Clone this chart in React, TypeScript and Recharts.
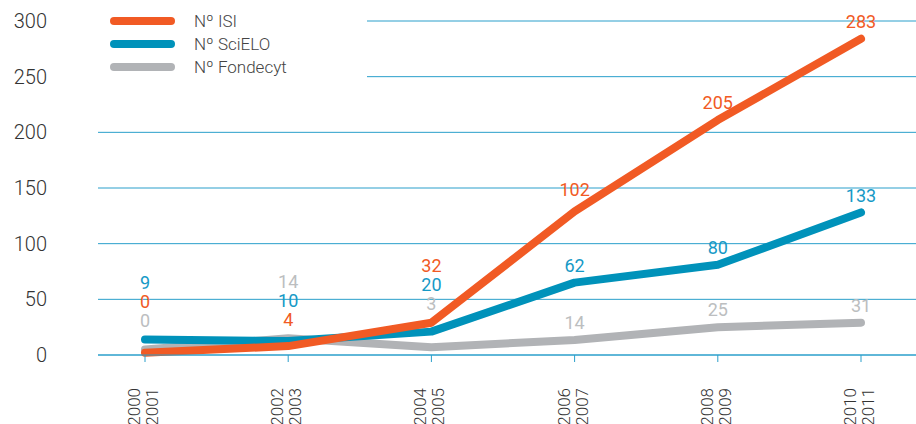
import React from 'react';
import { LineChart, Line, XAxis, YAxis, CartesianGrid, LabelList } from 'recharts';

const periodStart = ['2000', '2002', '2004', '2006', '2008', '2010'];
const periodEnd = ['2001', '2003', '2005', '2007', '2009', '2011'];
const isiValues = [2, 8, 29, 129, 211, 284];
const scieloValues = [14, 12.5, 21, 65, 81, 128];
const fondecytValues = [5, 15, 7, 13.5, 25, 29];
const isiLabels = [0, 4, 32, 102, 205, 283];
const scieloLabels = [9, 10, 20, 62, 80, 133];
const fondecytLabels = [0, 14, 3, 14, 25, 31];
const yTicks = [0, 50, 100, 150, 200, 250, 300];

const FONT = 'Roboto, "Noto Sans", sans-serif';
const GRID = '#2A9FCB';

const series = [
  { key: 'isi', name: 'Nº ISI', color: '#F15A24', labelColor: '#F15A24', values: isiValues, labels: isiLabels },
  { key: 'scielo', name: 'Nº SciELO', color: '#0092BA', labelColor: '#1699C6', values: scieloValues, labels: scieloLabels },
  { key: 'fondecyt', name: 'Nº Fondecyt', color: '#B1B3B6', labelColor: '#BCBEC0', values: fondecytValues, labels: fondecytLabels },
];

const data = periodStart.map((s, i) => {
  const vals = series.map((se) => se.values[i]);
  const grouped = Math.max(...vals) - Math.min(...vals) < 40;
  const row: any = { period: s + '-' + periodEnd[i], start: s, end: periodEnd[i], grouped, anchor: grouped ? Math.max(...vals) : null };
  series.forEach((se) => {
    row[se.key] = se.values[i];
    row[se.key + 'Label'] = se.labels[i];
  });
  return row;
});

const XTick = (props: any) => {
  const { x, y, index } = props;
  return (
    <g transform={`translate(${x},${y})`}>
      <text transform="rotate(-90)" textAnchor="end" fontFamily={FONT} fontWeight={300} fontSize={17} fill="#333">
        <tspan x={0} y={-5}>{periodStart[index]}</tspan>
        <tspan x={0} y={13}>{periodEnd[index]}</tspan>
      </text>
    </g>
  );
};

const YTick = (props: any) => {
  const { x, y, payload } = props;
  return (
    <text x={x} y={y} dy="0.35em" textAnchor="end" fontFamily={FONT} fontWeight={300} fontSize={20} fill="#333">
      {payload.value}
    </text>
  );
};

const makeSingleLabel = (seIdx: number) => (props: any) => {
  const { x, y, index } = props;
  const row = data[index];
  if (!row || row.grouped || x == null || y == null) return null;
  const se = series[seIdx];
  const off = seIdx === 0 && index === 3 ? 22 : 17;
  return (
    <text x={x} y={y - off} dy="0.35em" textAnchor="middle" fontFamily={FONT} fontSize={18} fill={se.labelColor}>
      {row[se.key + 'Label']}
    </text>
  );
};

const StackLabel = (props: any) => {
  const { x, y, index } = props;
  const row = data[index];
  if (!row || !row.grouped || x == null || y == null) return null;
  const items = series
    .map((se, k) => ({ se, k, v: row[se.key + 'Label'] }))
    .sort((a, b) => (b.v - a.v) || (a.k - b.k));
  const n = items.length;
  return (
    <g>
      {items.map((it, j) => (
        <text
          key={it.se.key}
          x={x}
          y={y - 19 - (n - 1 - j) * 19}
          dy="0.35em"
          textAnchor="middle"
          fontFamily={FONT}
          fontSize={18}
          fill={it.se.labelColor}
        >
          {it.v}
        </text>
      ))}
    </g>
  );
};

const LegendBox = () => (
  <div
    style={{
      position: 'absolute',
      left: 98,
      top: 0,
      width: 269,
      height: 88,
      background: '#fff',
      fontFamily: FONT,
    }}
  >
    {series.map((se, i) => (
      <div key={se.key} style={{ position: 'absolute', left: 12, top: 10 + i * 23, height: 22, display: 'flex', alignItems: 'center' }}>
        <div style={{ width: 65, height: 8, borderRadius: 4, background: se.color }} />
        <span style={{ marginLeft: 19, fontSize: 17, fontWeight: 300, color: '#444', lineHeight: '22px' }}>{se.name}</span>
      </div>
    ))}
  </div>
);

export default function App() {
  const order = [2, 1, 0];
  return (
    <div style={{ position: 'absolute', left: 0, top: 0, width: 916, height: 424, background: '#fff' }}>
      <LineChart width={916} height={424} data={data} margin={{ top: 21, right: 0, bottom: 0, left: 0 }}>
        <CartesianGrid horizontal vertical={false} stroke={GRID} strokeWidth={1} />
        <XAxis
          dataKey="period"
          height={69}
          padding={{ left: 47, right: 55 }}
          axisLine={{ stroke: GRID }}
          tickLine={{ stroke: GRID }}
          tickSize={7}
          tickMargin={26}
          tick={<XTick />}
          interval={0}
        />
        <YAxis
          width={98}
          domain={[0, 300]}
          ticks={yTicks}
          axisLine={false}
          tickLine={false}
          tickSize={0}
          tickMargin={51}
          tick={<YTick />}
        />
        {order.map((k) => {
          const se = series[k];
          return (
            <Line
              key={se.key}
              type="linear"
              dataKey={se.key}
              stroke={se.color}
              strokeWidth={8}
              strokeLinecap="round"
              strokeLinejoin="round"
              dot={false}
              activeDot={false}
              isAnimationActive={false}
            >
              <LabelList dataKey={se.key + 'Label'} content={makeSingleLabel(k)} />
            </Line>
          );
        })}
        <Line
          dataKey="anchor"
          stroke="none"
          dot={false}
          activeDot={false}
          isAnimationActive={false}
          connectNulls={false}
        >
          <LabelList dataKey="anchor" content={StackLabel} />
        </Line>
      </LineChart>
      <LegendBox />
    </div>
  );
}
